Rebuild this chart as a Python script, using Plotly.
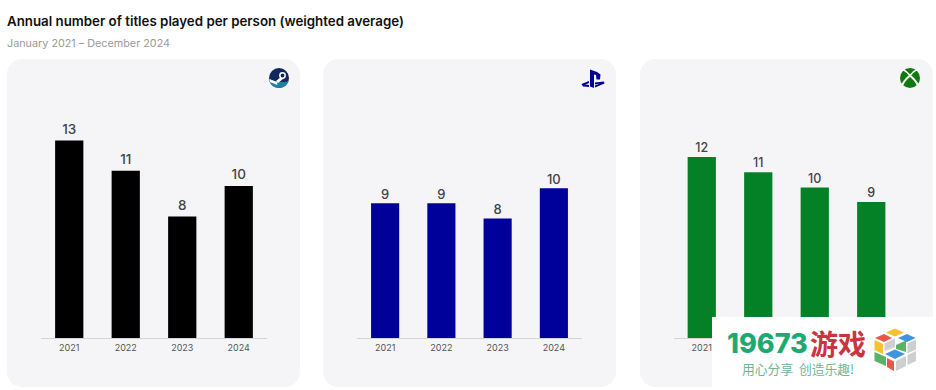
import plotly.graph_objects as go

W, H = 936, 390
years = ["2021", "2022", "2023", "2024"]
steam_values = [13, 11, 8, 10]
playstation_values = [8.86, 8.86, 7.87, 9.85]
xbox_values = [11.9, 10.9, 9.9, 8.95]

FONT = "Inter, 'Open Sans', sans-serif"
CJK = "'Noto Sans CJK SC'"
PANEL = "#f5f5f8"

def px(x):
    return x / W

def py(y):
    return 1 - y / H

def pt(x, y):
    return f"{px(x):.5f},{py(y):.5f}"

def poly(points, fill):
    d = "M" + " L".join(pt(x, y) for x, y in points) + " Z"
    return dict(type="path", xref="paper", yref="paper", path=d, fillcolor=fill, line=dict(width=0))

def round_rect(x0, y0, x1, y1, r, fill):
    k = r * 0.45
    d = (f"M{pt(x0 + r, y0)} L{pt(x1 - r, y0)} C{pt(x1 - k, y0)} {pt(x1, y0 + k)} {pt(x1, y0 + r)} "
         f"L{pt(x1, y1 - r)} C{pt(x1, y1 - k)} {pt(x1 - k, y1)} {pt(x1 - r, y1)} "
         f"L{pt(x0 + r, y1)} C{pt(x0 + k, y1)} {pt(x0, y1 - k)} {pt(x0, y1 - r)} "
         f"L{pt(x0, y0 + r)} C{pt(x0, y0 + k)} {pt(x0 + k, y0)} {pt(x0 + r, y0)} Z")
    return dict(type="path", xref="paper", yref="paper", path=d, fillcolor=fill,
                line=dict(width=0), layer="below")

def circle(cx, cy, r, fill):
    return dict(type="circle", xref="paper", yref="paper", x0=px(cx - r), x1=px(cx + r),
                y0=py(cy + r), y1=py(cy - r), fillcolor=fill, line=dict(width=0))

def curve(d, fill):
    return dict(type="path", xref="paper", yref="paper", path=d, fillcolor=fill, line=dict(width=0))

def stroke(d, color, width):
    return dict(type="path", xref="paper", yref="paper", path=d,
                fillcolor="rgba(0,0,0,0)", line=dict(width=width, color=color))

def rect(x0, y0, x1, y1, fill):
    return dict(type="rect", xref="paper", yref="paper", x0=px(x0), x1=px(x1),
                y0=py(y1), y1=py(y0), fillcolor=fill, line=dict(width=0))

def label(x, y, text, size, color, family=FONT, weight=None):
    f = dict(family=family, size=size, color=color)
    if weight:
        f["weight"] = weight
    return dict(xref="paper", yref="paper", x=px(x), y=py(y), text=text, showarrow=False,
                xanchor="left", yanchor="middle", xshift=-2, font=f)

fig = go.Figure()
BASE_Y = 338
TOP_Y = 110
Y_MAX = 15
UNIT_PX = (BASE_Y - TOP_Y) / Y_MAX
panels = [
    ("x", "y", 41, 267, steam_values, "#000000", 10, 13.5),
    ("x2", "y2", 357, 582, playstation_values, "#00009b", 8, 13),
    ("x3", "y3", 673.5, 899.5, xbox_values, "#048127", 8, 12.5),
]
layout_axes = {}
for xa, ya, x0, x1, vals, color, gap, fsize in panels:
    fig.add_trace(go.Bar(
        x=years, y=vals, xaxis=xa, yaxis=ya, marker=dict(color=color, line=dict(width=0)),
        showlegend=False, hoverinfo="skip",
    ))
    fig.add_trace(go.Scatter(
        x=years, y=[v + gap / UNIT_PX for v in vals], xaxis=xa, yaxis=ya, mode="text",
        text=[f"{v:.0f}" for v in vals], textposition="middle center", cliponaxis=False,
        textfont=dict(family=FONT, size=fsize, color="#444444", weight=500),
        showlegend=False, hoverinfo="skip",
    ))
    xn = "xaxis" + xa[1:]
    yn = "yaxis" + ya[1:]
    layout_axes[xn] = dict(domain=[px(x0), px(x1)], anchor=ya, type="category", showgrid=False,
                           categoryorder="array", categoryarray=years, range=[-0.5, 3.5],
                           zeroline=False, showline=True, linecolor="#d4d4d8", linewidth=1,
                           ticks="", tickfont=dict(family=FONT, size=9, color="#555555"),
                           ticklabelstandoff=1)
    layout_axes[yn] = dict(domain=[py(BASE_Y), py(TOP_Y)], anchor=xa, range=[0, Y_MAX], visible=False)

# The watermark card hides the later Xbox year labels in the reference
layout_axes["xaxis3"].update(tickmode="array", tickvals=years[:1], ticktext=years[:1])

shapes = [
    round_rect(7, 59, 300, 387, 15, PANEL),
    round_rect(323, 59, 616, 387, 15, PANEL),
    round_rect(640, 59, 933, 387, 15, PANEL),
]

# Steam badge
shapes += [
    circle(279, 78, 10, "#11285c"),
    curve(f"M{pt(269.4, 81)} C{pt(271, 86)} {pt(275, 88)} {pt(279, 88)} C{pt(284, 88)} {pt(287.5, 85)} {pt(288.6, 80.5)} "
          f"C{pt(284, 84)} {pt(275, 80)} {pt(269.4, 81)} Z", "#1f7ea6"),
    poly([(269.5, 79), (277, 82), (277.5, 85), (269.8, 82)], "#ffffff"),
    poly([(276, 81), (281, 77), (283, 79), (278, 83)], "#ffffff"),
    circle(282.5, 75.5, 3.4, "#ffffff"),
    circle(282.5, 75.5, 1.9, "#11285c"),
]

# PlayStation badge
shapes += [
    poly([(590, 69.5), (590, 86.5), (594, 88), (594, 74.5), (596, 75), (596.5, 79.5), (600, 79.5),
          (600.5, 74.5), (597, 72)], "#00009b"),
    poly([(581.5, 84), (589, 81), (589, 83), (585.5, 84.5), (589, 85), (589, 87), (583, 86.5)], "#00009b"),
    poly([(595, 82.5), (604, 81.5), (604.5, 83.5), (595, 87.5), (595, 85.5), (600, 83.5), (595, 84.5)], "#00009b"),
]

# Xbox badge
shapes += [
    circle(910, 78, 10, "#0e7a0d"),
    stroke(f"M{pt(903, 69.5)} C{pt(906, 71)} {pt(908, 73)} {pt(910, 75.5)} C{pt(912, 73)} {pt(914, 71)} {pt(917, 69.5)}",
           "#ffffff", 1.6),
    stroke(f"M{pt(902.5, 85)} C{pt(903, 82)} {pt(906, 79)} {pt(910, 75.5)} C{pt(914, 79)} {pt(917, 82)} {pt(917.5, 85)}",
           "#ffffff", 2),
]

# Watermark card and isometric cube mark
shapes.append(rect(712, 317, 936, 390, "#ffffff"))
shapes += [
    poly([(895, 328.5), (904, 332.5), (895, 336.5), (886, 332.5)], "#f2c230"),
    poly([(884, 334), (892, 338), (884, 342), (875, 338)], "#e8584a"),
    poly([(907, 334), (915.5, 338), (907, 342), (898, 338)], "#3f94dc"),
    poly([(895, 338.5), (884.5, 343.5), (884.5, 351), (895, 347)], "#cfcfcf"),
    poly([(896, 345), (906, 340.5), (906, 352), (896, 349)], "#58b368"),
    poly([(874.5, 340), (883, 344), (883, 354), (874.5, 350)], "#f2c230"),
    poly([(874.5, 352), (886, 357), (886, 366), (874.5, 361)], "#58b368"),
    poly([(895, 349.5), (905, 354), (895, 359), (885, 354)], "#3f94dc"),
    poly([(887, 358), (894, 361.5), (894, 371), (887, 367)], "#e8584a"),
    poly([(896, 361), (906, 356), (906, 366), (896, 371)], "#cfcfcf"),
    poly([(907.5, 343.5), (916, 339.5), (916, 349.5), (907.5, 353.5)], "#cfcfcf"),
    poly([(907.5, 355), (916, 351), (916, 361), (907.5, 365)], "#cfcfcf"),
]

annotations = [
    label(7, 21, "Annual number of titles played per person (weighted average)", 13.3, "#111111", weight=600),
    label(7, 43, "January 2021 – December 2024", 10.8, "#9a9a9a"),
    label(727, 343, "19673", 27, "#1fa971", weight=800),
    label(810, 343, "<b>游戏</b>", 28, "#c9343f", family=CJK),
    label(742, 368, "用心分享  创造乐趣!", 12.8, "#6fb597", family=CJK),
]

fig.update_layout(
    width=W, height=H, margin=dict(l=0, r=0, t=0, b=0), paper_bgcolor="#ffffff", plot_bgcolor="rgba(0,0,0,0)",
    bargap=0.5, shapes=shapes, annotations=annotations, font=dict(family=FONT), **layout_axes,
)

fig.write_html("out.html", config={"displayModeBar": False},
               post_script="document.body.style.margin='0';document.body.style.overflow='hidden';")
